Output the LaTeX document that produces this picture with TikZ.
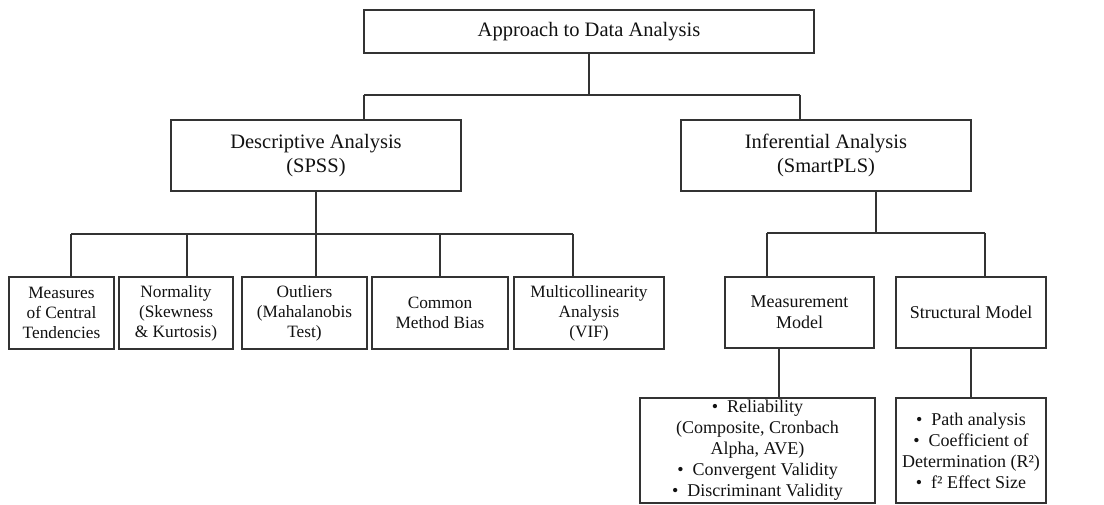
\documentclass[tikz,border=0pt]{standalone}
\usepackage{fontspec}
\setmainfont{Liberation Serif}
\definecolor{ink}{HTML}{111111}
\definecolor{edge}{HTML}{333333}
\begin{document}
\begin{tikzpicture}[x=1pt,y=-1pt,
  box/.style={draw=edge,line width=1.4pt,inner sep=0pt,align=center,text=ink,
    minimum width=#1},
  bigtxt/.style={font=\fontsize{20.5}{23.5}\selectfont},
  midtxt/.style={font=\fontsize{18}{21}\selectfont},
  smalltxt/.style={font=\fontsize{17.3}{20}\selectfont},
  link/.style={draw=edge,line width=1.3pt}]
\useasboundingbox (0,0) rectangle (1104,505);

% top level
\node[box=450pt,bigtxt,minimum height=43pt] (top) at (589,31.5) {Approach to Data Analysis};

% second level
\node[box=290pt,bigtxt,minimum height=71pt] (desc) at (316,155.5) {Descriptive Analysis\\(SPSS)};
\node[box=290pt,bigtxt,minimum height=71pt] (inf) at (826,155.5) {Inferential Analysis\\(SmartPLS)};

% descriptive branches
\node[box=105pt,smalltxt,minimum height=72pt] (b1) at (61.5,313) {Measures\\of Central\\Tendencies};
\node[box=114pt,smalltxt,minimum height=72pt] (b2) at (176,313) {Normality\\(Skewness\\\& Kurtosis)};
\node[box=125pt,smalltxt,minimum height=72pt] (b3) at (304.5,313) {Outliers\\(Mahalanobis\\Test)};
\node[box=136pt,smalltxt,minimum height=72pt] (b4) at (440,313) {Common\\Method Bias};
\node[box=150pt,smalltxt,minimum height=72pt] (b5) at (589,313) {Multicollinearity\\Analysis\\(VIF)};

% inferential branches
\node[box=149pt,midtxt,minimum height=71pt] (meas) at (799.5,312.5) {Measurement\\Model};
\node[box=150pt,midtxt,minimum height=71pt] (struct) at (971,312.5) {Structural Model};

% detail boxes
\node[box=235pt,midtxt,minimum height=105pt] (mdet) at (757.5,450.5)
  {\textbullet\ \ Reliability\\(Composite, Cronbach\\Alpha, AVE)\\\textbullet\ \ Convergent Validity\\\textbullet\ \ Discriminant Validity};
\node[box=150pt,midtxt,minimum height=105pt] (sdet) at (971,450.5)
  {\textbullet\ \ Path analysis\\\textbullet\ \ Coefficient of\\Determination (R²)\\\textbullet\ \ f² Effect Size};

% connectors: top level
\coordinate (tL) at (364,95);
\coordinate (tR) at (800,95);
\draw[link] (top.south) -- (top.south |- tL);
\draw[link] (tL) -- (tR);
\draw[link] (tL) -- (tL |- desc.north);
\draw[link] (tR) -- (tR |- inf.north);

% connectors: descriptive
\coordinate (dL) at (71,234);
\coordinate (dR) at (573,234);
\draw[link] (desc.south) -- (desc.south |- dL);
\draw[link] (dL) -- (dR);
\foreach \b/\x in {b1/71,b2/187,b3/316,b4/440,b5/573}
  \draw[link] (\x,234) -- (\x,234 |- \b.north);

% connectors: inferential
\coordinate (iL) at (767,233);
\coordinate (iR) at (985,233);
\coordinate (iS) at (876,191);
\draw[link] (iS |- inf.south) -- (iS |- iL);
\draw[link] (iL) -- (iR);
\draw[link] (iL) -- (iL |- meas.north);
\draw[link] (iR) -- (iR |- struct.north);

% connectors: detail boxes
\coordinate (mD) at (779,348);
\draw[link] (mD |- meas.south) -- (mD |- mdet.north);
\draw[link] (struct.south) -- (sdet.north);
\end{tikzpicture}
\end{document}
